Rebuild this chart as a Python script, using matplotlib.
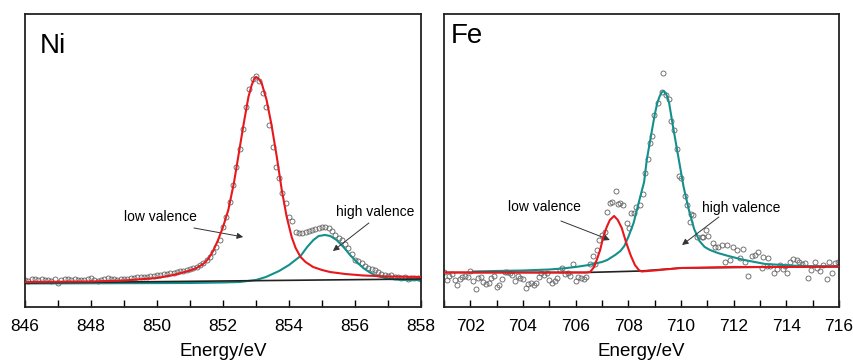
import matplotlib.pyplot as plt

plt.rcParams['font.family'] = ['Liberation Sans', 'DejaVu Sans']

# ---- Ni 2p data (energy in eV, intensity in arbitrary units) ----
ni_e = [846.0, 846.1, 846.2, 846.3, 846.4, 846.5, 846.6, 846.7, 846.8, 846.9,
        847.0, 847.1, 847.2, 847.3, 847.4, 847.5, 847.6, 847.7, 847.8, 847.9,
        848.0, 848.1, 848.2, 848.3, 848.4, 848.5, 848.6, 848.7, 848.8, 848.9,
        849.0, 849.1, 849.2, 849.3, 849.4, 849.5, 849.6, 849.7, 849.8, 849.9,
        850.0, 850.1, 850.2, 850.3, 850.4, 850.5, 850.6, 850.7, 850.8, 850.9,
        851.0, 851.1, 851.2, 851.3, 851.4, 851.5, 851.6, 851.7, 851.8, 851.9,
        852.0, 852.1, 852.2, 852.3, 852.4, 852.5, 852.6, 852.7, 852.8, 852.9,
        853.0, 853.1, 853.2, 853.3, 853.4, 853.5, 853.6, 853.7, 853.8, 853.9,
        854.0, 854.1, 854.2, 854.3, 854.4, 854.5, 854.6, 854.7, 854.8, 854.9,
        855.0, 855.1, 855.2, 855.3, 855.4, 855.5, 855.6, 855.7, 855.8, 855.9,
        856.0, 856.1, 856.2, 856.3, 856.4, 856.5, 856.6, 856.7, 856.8, 856.9,
        857.0, 857.1, 857.2, 857.3, 857.4, 857.5, 857.6, 857.7, 857.8, 857.9,
        858.0]
ni_raw = [27, 26, 27.5, 28, 27, 27.5, 26.5, 27, 26, 27.5,
          24, 27, 27.5, 28, 27, 28, 27, 26.5, 27, 28,
          29, 26.5, 26, 26.5, 28, 29, 28, 27.5, 27, 28,
          27.5, 28, 29, 28.5, 29.5, 30, 30, 29.5, 31, 31,
          31.5, 32, 32.5, 33, 33.5, 34, 34.5, 35.5, 36, 37,
          38, 39, 40, 42, 44, 47, 50, 55, 60, 67,
          80, 90, 105, 122, 140, 158, 178, 200, 218, 228,
          231, 226, 214, 200, 182, 160, 140, 129, 114, 104,
          90, 86, 75, 74, 74, 75, 76, 77, 78, 79,
          80, 80, 79, 76, 72, 69, 67, 63, 59, 53,
          47, 46, 44, 41, 39, 38, 37, 35, 33, 32,
          31, 31.5, 30, 29.5, 29, 30, 28, 29, 28.5, 29,
          28]

ni_low_e = [846.0, 848.0, 849.0, 850.0, 850.5, 851.0, 851.2, 851.4, 851.55, 851.7,
            851.85, 852.0, 852.16, 852.33, 852.48, 852.63, 852.77, 852.87, 852.95, 853.0,
            853.06, 853.17, 853.32, 853.47, 853.63, 853.78, 853.93, 854.08, 854.2, 854.35,
            854.5, 854.73, 855.0, 855.24, 855.7, 856.25, 857.0, 858.0]
ni_low_y = [25, 25.5, 26.5, 29, 32, 36.5, 39, 43, 48, 56,
            67, 80, 97, 124, 154, 184, 210, 222, 228.5, 230,
            229, 224, 207, 182, 150, 117, 90, 70, 59, 50,
            45, 40, 37, 35, 33, 31.5, 30.5, 30]

ni_high_e = [846.0, 851.0, 852.0, 852.5, 853.0, 853.3, 853.7, 854.0, 854.35, 854.55,
             854.74, 854.9, 855.09, 855.25, 855.44, 855.65, 855.85, 856.05, 856.25, 856.45,
             856.66, 857.06, 857.5, 858.0]
ni_high_y = [23.5, 24, 24.5, 25, 27, 30, 36, 42, 51, 60,
             67, 71, 72, 71, 67, 60, 52, 45, 39, 34.5,
             31, 28, 27, 27]

ni_base_e = [846.0, 858.0]
ni_base_y = [24, 28]

# ---- Fe 2p data ----
fe_e = [701.0, 701.1, 701.2, 701.3, 701.4, 701.5, 701.6, 701.7, 701.8, 701.9,
        702.0, 702.1, 702.2, 702.3, 702.4, 702.5, 702.6, 702.7, 702.8, 702.9,
        703.0, 703.1, 703.2, 703.3, 703.4, 703.5, 703.6, 703.7, 703.8, 703.9,
        704.0, 704.1, 704.2, 704.3, 704.4, 704.5, 704.6, 704.7, 704.8, 704.9,
        705.0, 705.1, 705.2, 705.3, 705.4, 705.5, 705.6, 705.7, 705.8, 705.9,
        706.0, 706.1, 706.2, 706.3, 706.4, 706.55, 706.65, 706.73, 706.8, 706.9,
        707.0, 707.1, 707.18, 707.3, 707.37, 707.53, 707.62, 707.7, 707.8, 707.94,
        708.04, 708.1, 708.2, 708.3, 708.44, 708.54, 708.64, 708.74, 708.82, 708.9,
        708.99, 709.14, 709.27, 709.33, 709.42, 709.54, 709.62, 709.73, 709.84, 709.93,
        709.99, 710.15, 710.24, 710.35, 710.38, 710.47, 710.62, 710.78, 710.82, 710.95,
        711.04, 711.23, 711.3, 711.42, 711.54, 711.67, 711.76, 711.86, 711.99, 712.14,
        712.24, 712.34, 712.43, 712.56, 712.68, 712.81, 712.94, 713.06, 713.12, 713.25,
        713.31, 713.38, 713.53, 713.66, 713.76, 713.86, 713.95, 714.04, 714.14, 714.27,
        714.39, 714.49, 714.58, 714.71, 714.83, 714.92, 715.09, 715.18, 715.28, 715.38,
        715.53, 715.63, 715.72, 715.85, 715.97]
fe_raw = [35, 27, 31, 33, 27, 22, 28, 30, 31, 30,
          36, 26, 18, 29, 30, 25, 23, 24, 29, 31,
          20, 22, 28, 35, 35, 34, 32, 26, 31, 29,
          28, 19, 23, 24, 22, 24, 30, 34, 32, 34,
          27, 24, 26, 29, 37, 39, 33, 34, 31, 43,
          26, 30, 29, 28, 30, 43, 51, 43, 57, 67,
          72, 75, 95, 104, 105, 116, 103, 104, 102, 84,
          79, 94, 94, 100, 102, 113, 134, 148, 164, 171,
          192, 204, 215, 234, 212, 208, 186, 177, 158, 131,
          129, 111, 102, 85, 93, 92, 70, 70, 70, 77,
          71, 64, 60, 60, 62, 45, 62, 47, 60, 57,
          49, 58, 45, 31, 51, 52, 55, 39, 50, 41,
          49, 41, 34, 38, 42, 38, 41, 34, 45, 48,
          47, 45, 43, 44, 29, 37, 45, 39, 36, 42,
          28, 45, 34, 44, 45]

fe_low_e = [701.0, 703.0, 705.0, 706.4, 706.55, 706.7, 706.8, 706.93, 707.05, 707.18,
            707.3, 707.46, 707.6, 707.75, 707.9, 707.99, 708.1, 708.25, 708.4, 708.5,
            709.0, 710.0, 711.0, 712.0, 714.0, 716.0]
fe_low_y = [34.5, 34.5, 34.5, 34.5, 35, 40, 47, 57, 70, 80,
            87, 91, 87, 79, 66, 59, 51, 42, 37, 35.5,
            36.5, 39, 39.5, 40, 40, 40.5]

fe_high_e = [702.1, 703.0, 704.0, 705.0, 705.5, 706.0, 706.5, 707.0, 707.2, 707.5,
             707.7, 707.85, 708.0, 708.2, 708.45, 708.6, 708.7, 708.8, 708.9, 709.0,
             709.1, 709.18, 709.25, 709.33, 709.42, 709.48, 709.55, 709.7, 709.8, 709.9,
             710.0, 710.1, 710.3, 710.5, 710.7, 710.9, 711.1, 711.4, 711.8, 712.4,
             713.2, 714.5, 716.0]
fe_high_y = [35.5, 36, 36.5, 37.5, 38.5, 40, 42, 45, 47, 52,
             56, 61, 70, 84, 110, 125, 147, 162, 177, 192,
             204, 210, 214, 216, 214, 210, 204, 180, 165, 150,
             135, 120, 97, 78, 66, 60, 57, 54, 51, 47,
             43, 41, 40.3]

fe_base_e = [701.0, 706.4, 708.5, 710.0, 716.0]
fe_base_y = [34.5, 34.5, 36, 39, 40.5]

RED = '#e8171c'
TEAL = '#14908c'

fig = plt.figure(figsize=(8.54, 3.63), dpi=100)
ax1 = fig.add_axes([0.0293, 0.1543, 0.4637, 0.8072])
ax2 = fig.add_axes([0.5199, 0.1543, 0.4625, 0.8072])


def panel(ax, e, raw, low, high, base, xlim, ticks, minor):
    ax.plot(e, raw, 'o', ms=3.6, mfc='none', mec='#606060', mew=0.6, zorder=1)
    ax.plot(high[0], high[1], color=TEAL, lw=1.5, zorder=2)
    ax.plot(base[0], base[1], color='#222222', lw=1.2, zorder=3)
    ax.plot(low[0], low[1], color=RED, lw=1.5, zorder=4)
    ax.set_xlim(*xlim)
    ax.set_ylim(0, 293)
    ax.set_xticks(ticks)
    ax.set_xticks(minor, minor=True)
    ax.set_yticks([])
    ax.tick_params(axis='x', direction='in', length=5, width=1, labelsize=12.5, pad=9)
    ax.tick_params(axis='x', which='minor', direction='in', length=5, width=1)
    for s in ax.spines.values():
        s.set_linewidth(1.3)
        s.set_color('#222222')
    ax.set_xlabel('Energy/eV', fontsize=13.5, labelpad=6)


panel(ax1, ni_e, ni_raw, (ni_low_e, ni_low_y), (ni_high_e, ni_high_y),
      (ni_base_e, ni_base_y), (846, 858), list(range(846, 859, 2)), list(range(847, 858, 2)))
panel(ax2, fe_e, fe_raw, (fe_low_e, fe_low_y), (fe_high_e, fe_high_y),
      (fe_base_e, fe_base_y), (701, 716), list(range(702, 717, 2)), list(range(701, 716, 2)))

ax1.text(0.037, 0.935, 'Ni', transform=ax1.transAxes, fontsize=20, va='top', ha='left')
ax2.text(0.017, 0.97, 'Fe', transform=ax2.transAxes, fontsize=20, va='top', ha='left')

arrow = dict(arrowstyle='-|>', color='#333333', lw=0.7, mutation_scale=9, shrinkA=0, shrinkB=0)
ax1.text(850.09, 90, 'low valence', fontsize=10, ha='center', va='center')
ax1.annotate('', xy=(852.61, 70), xytext=(851.12, 79), arrowprops=arrow)
ax1.text(856.6, 95, 'high valence', fontsize=10, ha='center', va='center')
ax1.annotate('', xy=(855.33, 56), xytext=(856.42, 84), arrowprops=arrow)

ax2.text(704.82, 100, 'low valence', fontsize=10, ha='center', va='center')
ax2.annotate('', xy=(707.30, 67), xytext=(705.44, 86), arrowprops=arrow)
ax2.text(712.28, 99, 'high valence', fontsize=10, ha='center', va='center')
ax2.annotate('', xy=(710.04, 62), xytext=(711.44, 90), arrowprops=arrow)

fig.savefig('out.png', dpi=100)
